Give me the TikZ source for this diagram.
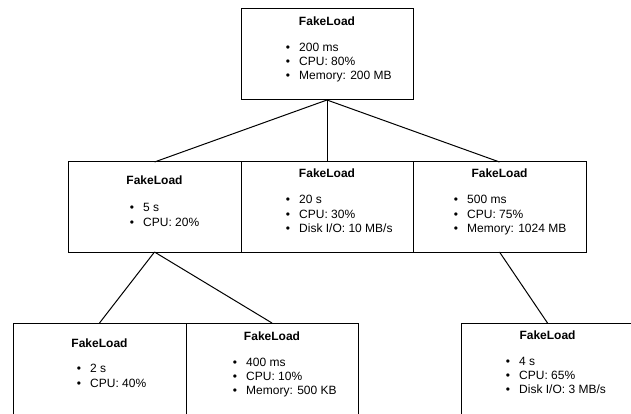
\documentclass[tikz,border=0pt]{standalone}
\usepackage{fontspec}
\setmainfont{Liberation Sans}
\begin{document}
\begin{tikzpicture}[x=1pt,y=-1pt,
  box/.style={draw, line width=1pt, minimum width=173pt, minimum height=91pt, inner sep=0pt, outer sep=0pt},
  ttl/.style={font=\fontsize{12}{14}\selectfont\bfseries, inner sep=0pt, anchor=base},
  itm/.style={font=\fontsize{12}{14}\selectfont, inner sep=0pt, anchor=base west},
  bul/.style={font=\fontsize{12}{14}\selectfont, inner sep=0pt, anchor=base},
  link/.style={line width=1pt}]
\useasboundingbox (0,0) rectangle (631,414);
\clip (0,0) rectangle (631,414);
% boxes
\node[box, minimum width=172pt] (top) at (327,54.5) {};
\node[box, minimum height=90pt] (ml) at (154.5,207) {};
\node[box, minimum width=172pt, minimum height=90pt] (mm) at (327,207) {};
\node[box, minimum height=90pt] (mr) at (499.5,207) {};
\node[box, minimum height=96pt] (bl) at (99.5,371) {};
\node[box, minimum width=172pt, minimum height=96pt] (bm) at (272,371) {};
\node[box, minimum height=96pt] (br) at (547.5,371) {};
% connectors
\draw[link] (top.south) -- (ml.north);
\draw[link] (top.south) -- (mm.north);
\draw[link] (top.south) -- (mr.north);
\draw[link] (ml.south) -- (bl.north);
\draw[link] (ml.south) -- (bm.north);
\draw[link] (mr.south) -- (br.north);
% top
\node[ttl] (topT) at (327,26) {FakeLoad};
\node[bul] (topB1) at (288,52) {•}; \node[itm] (topI1) at (299,52) {200 ms};
\node[bul] (topB2) at (288,66) {•}; \node[itm] (topI2) at (299,66) {CPU: 80\%};
\node[bul] (topB3) at (288,80) {•}; \node[itm] (topI3) at (299,80) {Memory: 200 MB};
% middle left
\node[ttl] (mlT) at (154.5,185) {FakeLoad};
\node[bul] (mlB1) at (132,211) {•}; \node[itm] (mlI1) at (143,211) {5 s};
\node[bul] (mlB2) at (132,226) {•}; \node[itm] (mlI2) at (143,226) {CPU: 20\%};
% middle middle
\node[ttl] (mmT) at (327,178) {FakeLoad};
\node[bul] (mmB1) at (288,204) {•}; \node[itm] (mmI1) at (299,204) {20 s};
\node[bul] (mmB2) at (288,218) {•}; \node[itm] (mmI2) at (299,218) {CPU: 30\%};
\node[bul] (mmB3) at (288,232) {•}; \node[itm] (mmI3) at (299,232) {Disk I/O: 10 MB/s};
% middle right
\node[ttl] (mrT) at (499.5,178) {FakeLoad};
\node[bul] (mrB1) at (456,204) {•}; \node[itm] (mrI1) at (467,204) {500 ms};
\node[bul] (mrB2) at (456,218) {•}; \node[itm] (mrI2) at (467,218) {CPU: 75\%};
\node[bul] (mrB3) at (456,232) {•}; \node[itm] (mrI3) at (467,232) {Memory: 1024 MB};
% bottom left
\node[ttl] (blT) at (99.5,347) {FakeLoad};
\node[bul] (blB1) at (79,372) {•}; \node[itm] (blI1) at (90,372) {2 s};
\node[bul] (blB2) at (79,387) {•}; \node[itm] (blI2) at (90,387) {CPU: 40\%};
% bottom middle
\node[ttl] (bmT) at (272,340) {FakeLoad};
\node[bul] (bmB1) at (235,366) {•}; \node[itm] (bmI1) at (246,366) {400 ms};
\node[bul] (bmB2) at (235,380) {•}; \node[itm] (bmI2) at (246,380) {CPU: 10\%};
\node[bul] (bmB3) at (235,394) {•}; \node[itm] (bmI3) at (246,394) {Memory: 500 KB};
% bottom right
\node[ttl] (brT) at (547.5,339) {FakeLoad};
\node[bul] (brB1) at (508,365) {•}; \node[itm] (brI1) at (519,365) {4 s};
\node[bul] (brB2) at (508,379) {•}; \node[itm] (brI2) at (519,379) {CPU: 65\%};
\node[bul] (brB3) at (508,393) {•}; \node[itm] (brI3) at (519,393) {Disk I/O: 3 MB/s};
\end{tikzpicture}
\end{document}
